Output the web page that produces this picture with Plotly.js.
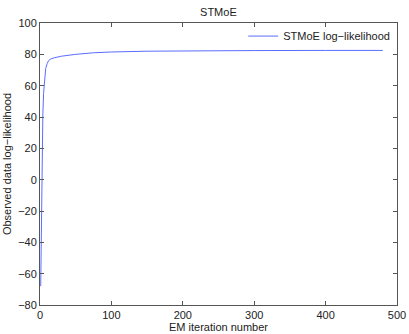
<!DOCTYPE html>
<html>
<head>
<meta charset="utf-8">
<script src="https://cdn.plot.ly/plotly-3.0.1.min.js"></script>
<style>html,body{margin:0;padding:0;background:#fff;}#chart{width:409px;height:334px;}</style>
</head>
<body>
<div id="chart"></div>
<script>
const iterations = [1, 2, 3, 4, 5, 6, 7, 8, 10, 12, 15, 20, 30, 50, 75, 100, 150, 200, 300, 400, 480];
const loglik = [-68, -20, 20, 42, 55, 63, 68, 71, 74, 76, 77, 77.8, 78.8, 80, 81, 81.5, 82, 82.2, 82.4, 82.5, 82.5];
const seriesName = 'STMoE log\u2212likelihood';
const xTicks = [0, 100, 200, 300, 400, 500];
const yTicks = [-80, -60, -40, -20, 0, 20, 40, 60, 80, 100];

const font = {family: 'Liberation Sans, Arial, sans-serif', size: 11, color: '#222'};
const axisCommon = {
  showgrid: false, zeroline: false, showline: true, mirror: 'allticks',
  linecolor: '#555', linewidth: 1, ticks: 'inside', ticklen: 4, tickcolor: '#555',
  tickfont: font, tickmode: 'array'
};
Plotly.newPlot('chart', [{
  x: iterations, y: loglik, type: 'scatter', mode: 'lines', name: seriesName,
  line: {color: '#5a6dff', width: 1}
}], {
  width: 409, height: 334,
  margin: {l: 40, r: 12, t: 23, b: 29},
  paper_bgcolor: '#fff', plot_bgcolor: '#fff',
  font: font,
  title: {text: 'STMoE', font: font, x: 0.534, xanchor: 'center', y: 0.965, yanchor: 'middle'},
  showlegend: true,
  legend: {x: 0.995, y: 1.005, xanchor: 'right', yanchor: 'top', bgcolor: 'rgba(255,255,255,0)', borderwidth: 0, font: font, itemwidth: 30},
  xaxis: Object.assign({}, axisCommon, {range: [0, 500], tickvals: xTicks,
    title: {text: 'EM iteration number', font: font, standoff: 2}}),
  yaxis: Object.assign({}, axisCommon, {range: [-80, 100], tickvals: yTicks,
    title: {text: 'Observed data log\u2212likelihood', font: font, standoff: 4}})
}, {displayModeBar: false, staticPlot: true});
</script>
</body>
</html>
